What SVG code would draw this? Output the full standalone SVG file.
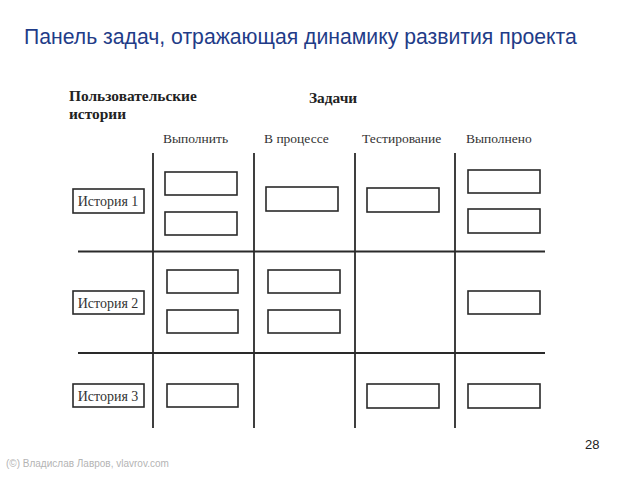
<svg xmlns="http://www.w3.org/2000/svg" width="638" height="479" viewBox="0 0 638 479">
<style>
.title{font-family:"Liberation Sans",Arial,sans-serif;font-size:21.2px;fill:#1f3c88}
.hb{font-family:"Liberation Serif","Times New Roman",serif;font-size:15.4px;font-weight:bold;fill:#222}
.col{font-family:"Liberation Serif","Times New Roman",serif;font-size:13.5px;fill:#333}
.lbl{font-family:"Liberation Serif","Times New Roman",serif;font-size:14px;fill:#333}
.card{fill:#fff;stroke:#2a2a2a;stroke-width:1.6}
.grid{stroke:#2a2a2a;stroke-width:1.8}
.foot{font-family:"Liberation Sans",Arial,sans-serif;font-size:10px;fill:#b4b4b4}
.num{font-family:"Liberation Sans",Arial,sans-serif;font-size:13px;fill:#222}
</style>
<rect width="638" height="479" fill="#fff"/>
<text class="title" x="24" y="44">Панель задач, отражающая динамику развития проекта</text>
<text class="hb" x="69" y="101">Пользовательские</text>
<text class="hb" x="69" y="119">истории</text>
<text class="hb" x="309" y="103">Задачи</text>
<text class="col" x="163" y="143">Выполнить</text>
<text class="col" x="264" y="143">В процессе</text>
<text class="col" x="362" y="143">Тестирование</text>
<text class="col" x="466" y="143">Выполнено</text>
<g id="connectors">
<line class="grid" x1="153" y1="153" x2="153" y2="428"/>
<line class="grid" x1="254" y1="153" x2="254" y2="428"/>
<line class="grid" x1="355" y1="153" x2="355" y2="428"/>
<line class="grid" x1="455" y1="153" x2="455" y2="428"/>
<line class="grid" x1="78" y1="251.5" x2="545" y2="251.5"/>
<line class="grid" x1="78" y1="353" x2="545" y2="353"/>
</g>
<g id="story1"><rect class="card" x="73" y="189" width="71" height="24"/><text class="lbl" x="108" y="205.5" text-anchor="middle">История 1</text></g>
<g id="story2"><rect class="card" x="73" y="291" width="71" height="23"/><text class="lbl" x="108" y="307.5" text-anchor="middle">История 2</text></g>
<g id="story3"><rect class="card" x="73" y="384" width="71" height="23"/><text class="lbl" x="108" y="400.5" text-anchor="middle">История 3</text></g>
<g id="t1a"><rect class="card" x="165" y="172" width="72" height="23"/></g>
<g id="t1b"><rect class="card" x="165" y="212" width="72" height="23"/></g>
<g id="t1c"><rect class="card" x="266" y="187" width="72" height="24"/></g>
<g id="t1d"><rect class="card" x="367" y="188" width="72" height="24"/></g>
<g id="t1e"><rect class="card" x="468" y="170" width="72" height="23"/></g>
<g id="t1f"><rect class="card" x="468" y="209" width="72" height="24"/></g>
<g id="t2a"><rect class="card" x="167" y="270" width="71" height="23"/></g>
<g id="t2b"><rect class="card" x="167" y="310" width="71" height="23"/></g>
<g id="t2c"><rect class="card" x="268" y="270" width="72" height="23"/></g>
<g id="t2d"><rect class="card" x="268" y="310" width="72" height="23"/></g>
<g id="t2e"><rect class="card" x="468" y="291" width="72" height="23"/></g>
<g id="t3a"><rect class="card" x="167" y="384" width="71" height="23"/></g>
<g id="t3b"><rect class="card" x="367" y="384" width="72" height="24"/></g>
<g id="t3c"><rect class="card" x="468" y="384" width="72" height="24"/></g>
<text class="num" x="585" y="449">28</text>
<text class="foot" x="6" y="467">(©) Владислав Лавров, vlavrov.com</text>
</svg>
